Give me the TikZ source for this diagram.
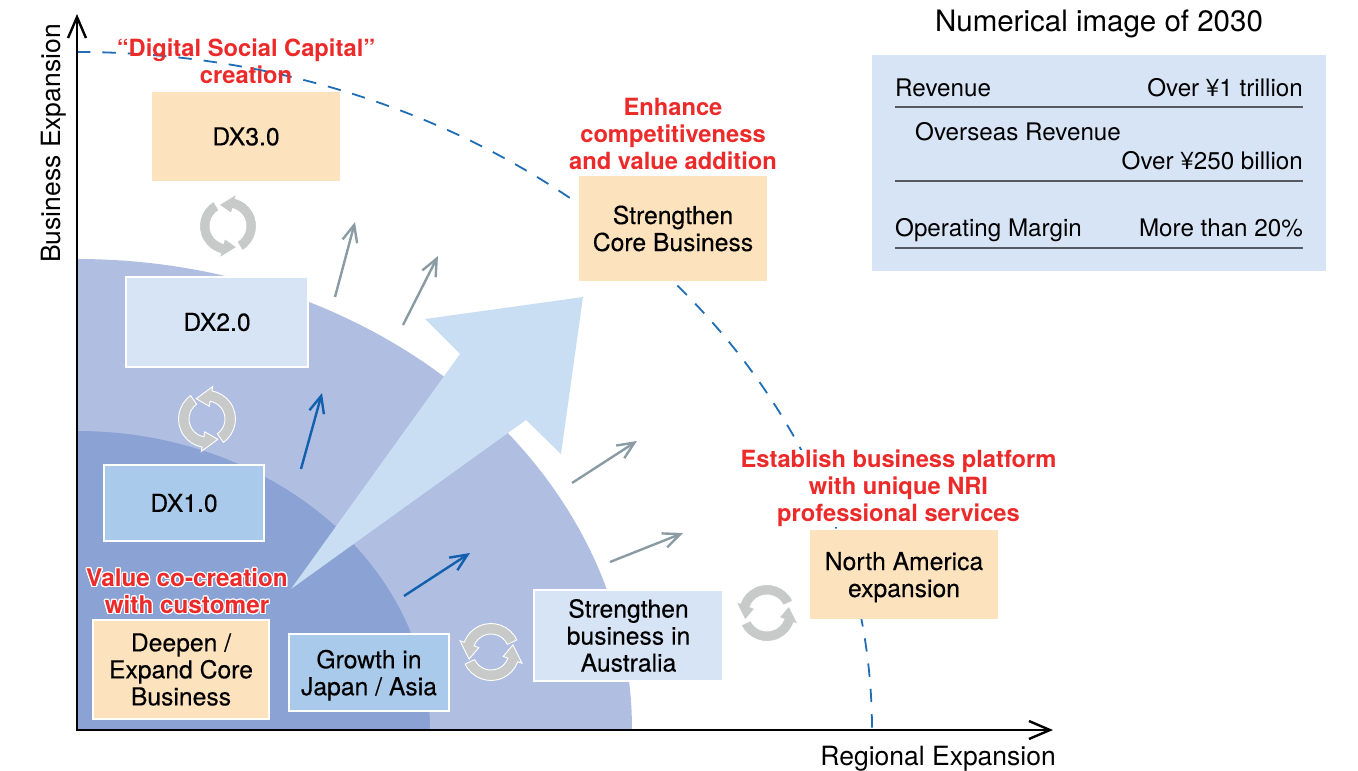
\documentclass[tikz,border=0pt]{standalone}
\usepackage{fontspec}
\setmainfont{TeX Gyre Heros}
\newfontfamily\boxfont[FakeBold=0.25]{TeX Gyre Heros}
\usepackage[copies]{contour}
\contourlength{1.2pt}
\usetikzlibrary{arrows.meta,positioning}

\definecolor{ringouter}{HTML}{B0BEE2}
\definecolor{ringinner}{HTML}{8BA2D4}
\definecolor{bigarrow}{HTML}{C9DDF3}
\definecolor{boxorange}{HTML}{FDE2BE}
\definecolor{boxpale}{HTML}{D7E4F5}
\definecolor{boxmid}{HTML}{A9CAEA}
\definecolor{dashblue}{HTML}{1F6DB5}
\definecolor{arrowblue}{HTML}{1160AE}
\definecolor{arrowgrey}{HTML}{8A9BA3}
\definecolor{cyclegrey}{HTML}{C8CAC9}
\definecolor{redlabel}{HTML}{EC2A2A}
\definecolor{rulegrey}{HTML}{555A60}

\tikzset{
  boxtext/.style={font=\fontsize{24.7}{27}\selectfont\boxfont, align=center, inner sep=0pt},
  orangebox/.style={rectangle, fill=boxorange, boxtext},
  palebox/.style={rectangle, fill=boxpale, draw=white, line width=1.2pt, boxtext},
  midbox/.style={rectangle, fill=boxmid, draw=white, line width=1.2pt, boxtext},
  redtext/.style={text=redlabel, font=\fontsize{23.7}{27}\selectfont\bfseries, align=center, inner sep=0pt},
  paneltext/.style={font=\fontsize{24.2}{27}\selectfont, inner sep=0pt},
  axislabel/.style={font=\fontsize{26.5}{30}\selectfont, inner sep=0pt},
  axisline/.style={line width=2.8pt, black, {Straight Barb[length=21pt,width=18pt,line width=2.4pt]}-{Straight Barb[length=21pt,width=18pt,line width=2.4pt]}},
  greyarrow/.style={line width=2.4pt, arrowgrey, -{Straight Barb[length=17pt,width=15pt]}},
  bluearrow/.style={line width=2.4pt, arrowblue, -{Straight Barb[length=17pt,width=15pt]}},
  pics/cycleicon/.style={code={
    \foreach \turn in {0,180} {
      \filldraw[fill=cyclegrey, draw=white, line width=0.9pt, rotate=\turn]
        (25:28.5pt) arc[start angle=25,end angle=160,radius=28.5pt] -- (160:33pt) -- (198:23pt)
        -- (160:13pt) -- (160:18pt) arc[start angle=160,end angle=25,radius=18pt] -- cycle;
    }
  }}
}

\begin{document}
\begin{tikzpicture}[x=1pt,y=-1pt]
    \useasboundingbox (0,0) rectangle (1358,771);
    \coordinate (origin) at (77,730);
    \coordinate (ytip) at (77,14);
    \coordinate (xtip) at (1053,730);

    % quarter rings and the dashed target line
    \fill[ringouter] (origin) -- ++(0,-471) arc[start angle=90,end angle=0,x radius=555pt,y radius=471pt] -- cycle;
    \fill[ringinner] (origin) -- ++(0,-299) arc[start angle=90,end angle=0,x radius=353pt,y radius=299pt] -- cycle;
    \draw[dashblue, line width=1.8pt, dash pattern=on 13.4pt off 12pt] (77,52) arc[start angle=90,end angle=0,x radius=795pt,y radius=678pt];
    \fill[bigarrow] (583,297) -- (425,319) -- (460,354) -- (291,589) -- (526,420) -- (561,454) -- cycle;

    \foreach \nm/\xa/\ya/\xb/\yb in {ga/335/297/355/222, gb/403/325/438/256, gc/572/483/637/441, gd/610/562/683/533} {
      \coordinate (\nm s) at (\xa,\ya);
      \coordinate (\nm e) at (\xb,\yb);
      \draw[greyarrow] (\nm s) -- (\nm e);
    }
    \foreach \nm/\xa/\ya/\xb/\yb in {ba/301/469/322/393, bb/404/596/470/553} {
      \coordinate (\nm s) at (\xa,\ya);
      \coordinate (\nm e) at (\xb,\yb);
      \draw[bluearrow] (\nm s) -- (\nm e);
    }

    \draw[axisline] (ytip) -- (origin) -- (xtip);
    \node(ylabel) [axislabel, rotate=90] at (54,143.5) {Business Expansion};
    \node(xlabel) [axislabel, anchor=base east] at (1056,765) {Regional Expansion};

    \node(dxthree) [orangebox, minimum width=188pt, minimum height=89pt] at (246,136.5) {DX3.0};
    \node(dxtwo) [palebox, minimum width=182pt, minimum height=90pt] at (217,322) {DX2.0};
    \node(dxone) [midbox, minimum width=160pt, minimum height=76pt] at (184,503) {DX1.0};
    \node(deepen) [orangebox, draw=white, line width=1.2pt, minimum width=176pt, minimum height=99pt] at (181,669.5) {Deepen /\\Expand Core\\Business};
    \node(growth) [midbox, text depth=0pt, minimum width=160pt, minimum height=77pt] at (369,672.5) {Growth in\\Japan / Asia};
    \node(australia) [palebox, minimum width=189pt, minimum height=91pt] at (628.5,635.5) {Strengthen\\business in\\Australia};
    \node(northam) [orangebox, text depth=0pt, minimum width=188pt, minimum height=89pt] at (904,574.5) {North America\\expansion};
    \node(core) [orangebox, minimum width=188pt, minimum height=105pt] at (673,228.5) {Strengthen\\Core Business};

    \pic(cyclea) at (228,226) [rotate=-85] {cycleicon};
    \pic(cycleb) at (207,419) [rotate=-80] {cycleicon};
    \pic(cyclec) at (491,652) {cycleicon};
    \pic(cycled) at (767,613) {cycleicon};

    \node(redthree) [redtext, above=8pt of dxthree] {“Digital Social Capital”\\creation};
    \node(redcore) [redtext, above=6pt of core] {Enhance\\competitiveness\\and value addition};
    \node(rednorth) [redtext, fill=white, above=3pt of northam, xshift=-5.5pt] {Establish business platform\\with unique NRI\\professional services};
    \node(redvalue) [redtext, font=\fontsize{24.3}{27}\selectfont\bfseries, above=4pt of deepen, xshift=6pt] {\contour{white}{Value co-creation}\\\contour{white}{with customer}};

    \node(panel) [rectangle, fill=boxpale, minimum width=454pt, minimum height=216pt] at (1099,163) {};
    \node(title) [font=\fontsize{29.5}{33}\selectfont, inner sep=0pt, anchor=base] at (1099,31) {Numerical image of 2030};
    \coordinate (ruleal) at (895,107);
    \coordinate (ruleah) at (1303,107);
    \coordinate (rulebl) at (895,181);
    \coordinate (rulebh) at (1303,181);
    \coordinate (rulecl) at (895,248);
    \coordinate (rulech) at (1303,248);
    \draw[rulegrey, line width=1.2pt] (ruleal) -- (ruleah);
    \draw[rulegrey, line width=1.2pt] (rulebl) -- (rulebh);
    \draw[rulegrey, line width=1.2pt] (rulecl) -- (rulech);
    \node(revenue) [paneltext, anchor=base west] at (895,96) {Revenue};
    \node(revval) [paneltext, anchor=base east] at (1303,96) {Over ¥1 trillion};
    \node(overseas) [paneltext, anchor=base west] at (915,140) {Overseas Revenue};
    \node(overval) [paneltext, anchor=base east] at (1303,169) {Over ¥250 billion};
    \node(margin) [paneltext, anchor=base west] at (895,236) {Operating Margin};
    \node(marval) [paneltext, anchor=base east] at (1303,236) {More than 20\%};
\end{tikzpicture}
\end{document}
